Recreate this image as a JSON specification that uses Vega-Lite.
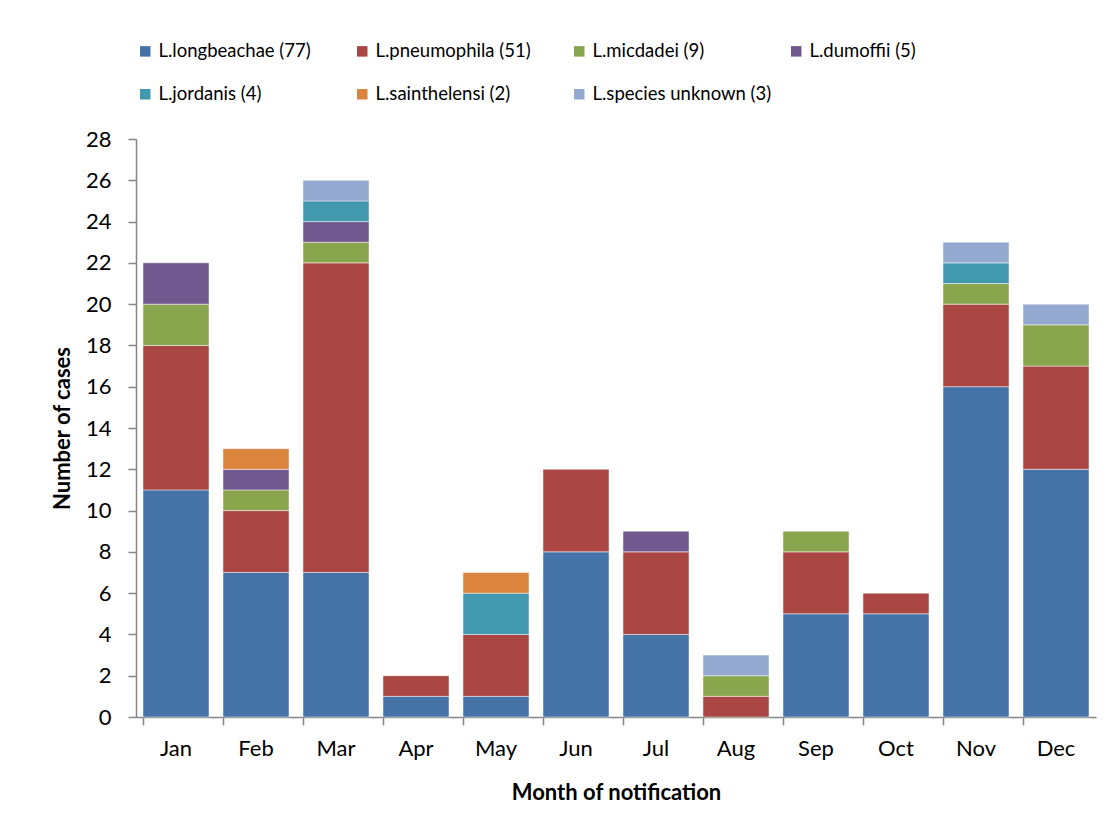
{
  "$schema": "https://vega.github.io/schema/vega-lite/v6.json",
  "autosize": {"type": "none"},
  "width": 960,
  "height": 578,
  "padding": {"left": 136, "top": 139, "right": 17, "bottom": 116},
  "background": "white",
  "config": {
    "font": "Lato",
    "view": {"stroke": null}
  },
  "data": {
    "values": [
      {"month": "Jan", "species": "L.longbeachae (77)", "cases": 11},
      {"month": "Jan", "species": "L.pneumophila (51)", "cases": 7},
      {"month": "Jan", "species": "L.micdadei (9)", "cases": 2},
      {"month": "Jan", "species": "L.dumoffii (5)", "cases": 2},
      {"month": "Feb", "species": "L.longbeachae (77)", "cases": 7},
      {"month": "Feb", "species": "L.pneumophila (51)", "cases": 3},
      {"month": "Feb", "species": "L.micdadei (9)", "cases": 1},
      {"month": "Feb", "species": "L.dumoffii (5)", "cases": 1},
      {"month": "Feb", "species": "L.sainthelensi (2)", "cases": 1},
      {"month": "Mar", "species": "L.longbeachae (77)", "cases": 7},
      {"month": "Mar", "species": "L.pneumophila (51)", "cases": 15},
      {"month": "Mar", "species": "L.micdadei (9)", "cases": 1},
      {"month": "Mar", "species": "L.dumoffii (5)", "cases": 1},
      {"month": "Mar", "species": "L.jordanis (4)", "cases": 1},
      {"month": "Mar", "species": "L.species unknown (3)", "cases": 1},
      {"month": "Apr", "species": "L.longbeachae (77)", "cases": 1},
      {"month": "Apr", "species": "L.pneumophila (51)", "cases": 1},
      {"month": "May", "species": "L.longbeachae (77)", "cases": 1},
      {"month": "May", "species": "L.pneumophila (51)", "cases": 3},
      {"month": "May", "species": "L.jordanis (4)", "cases": 2},
      {"month": "May", "species": "L.sainthelensi (2)", "cases": 1},
      {"month": "Jun", "species": "L.longbeachae (77)", "cases": 8},
      {"month": "Jun", "species": "L.pneumophila (51)", "cases": 4},
      {"month": "Jul", "species": "L.longbeachae (77)", "cases": 4},
      {"month": "Jul", "species": "L.pneumophila (51)", "cases": 4},
      {"month": "Jul", "species": "L.dumoffii (5)", "cases": 1},
      {"month": "Aug", "species": "L.pneumophila (51)", "cases": 1},
      {"month": "Aug", "species": "L.micdadei (9)", "cases": 1},
      {"month": "Aug", "species": "L.species unknown (3)", "cases": 1},
      {"month": "Sep", "species": "L.longbeachae (77)", "cases": 5},
      {"month": "Sep", "species": "L.pneumophila (51)", "cases": 3},
      {"month": "Sep", "species": "L.micdadei (9)", "cases": 1},
      {"month": "Oct", "species": "L.longbeachae (77)", "cases": 5},
      {"month": "Oct", "species": "L.pneumophila (51)", "cases": 1},
      {"month": "Nov", "species": "L.longbeachae (77)", "cases": 16},
      {"month": "Nov", "species": "L.pneumophila (51)", "cases": 4},
      {"month": "Nov", "species": "L.micdadei (9)", "cases": 1},
      {"month": "Nov", "species": "L.jordanis (4)", "cases": 1},
      {"month": "Nov", "species": "L.species unknown (3)", "cases": 1},
      {"month": "Dec", "species": "L.longbeachae (77)", "cases": 12},
      {"month": "Dec", "species": "L.pneumophila (51)", "cases": 5},
      {"month": "Dec", "species": "L.micdadei (9)", "cases": 2},
      {"month": "Dec", "species": "L.species unknown (3)", "cases": 1}
    ]
  },
  "transform": [
    {"calculate": "indexof(['L.longbeachae (77)', 'L.pneumophila (51)', 'L.micdadei (9)', 'L.dumoffii (5)', 'L.jordanis (4)', 'L.sainthelensi (2)', 'L.species unknown (3)'], datum.species)", "as": "stackOrder"}
  ],
  "mark": {"type": "bar", "stroke": "#ffffff", "strokeWidth": 0.8, "strokeOpacity": 0.6},
  "encoding": {
    "x": {
      "field": "month",
      "type": "nominal",
      "sort": ["Jan", "Feb", "Mar", "Apr", "May", "Jun", "Jul", "Aug", "Sep", "Oct", "Nov", "Dec"],
      "scale": {"paddingInner": 0.175, "paddingOuter": 0.0875},
      "axis": {
        "title": "Month of notification",
        "titleFont": "Lato",
        "titleFontSize": 22,
        "titleFontWeight": "bold",
        "titleColor": "#000000",
        "titlePadding": 23,
        "labelAngle": 0,
        "labelFontSize": 22,
        "labelColor": "#000000",
        "labelPadding": 13,
        "bandPosition": 0,
        "domainColor": "#868686",
        "domainWidth": 1.5,
        "tickColor": "#868686",
        "tickWidth": 1.5,
        "tickSize": 8
      }
    },
    "y": {
      "field": "cases",
      "type": "quantitative",
      "aggregate": "sum",
      "stack": "zero",
      "scale": {"domain": [0, 28], "nice": false},
      "axis": {
        "title": "Number of cases",
        "titleFontSize": 22,
        "titleFontWeight": "bold",
        "titleColor": "#000000",
        "titlePadding": 11,
        "values": [0, 2, 4, 6, 8, 10, 12, 14, 16, 18, 20, 22, 24, 26, 28],
        "labelFontSize": 22,
        "labelColor": "#000000",
        "labelPadding": 17,
        "grid": false,
        "domainColor": "#868686",
        "domainWidth": 1.5,
        "tickColor": "#868686",
        "tickWidth": 1.5,
        "tickSize": 8
      }
    },
    "color": {
      "field": "species",
      "type": "nominal",
      "sort": ["L.longbeachae (77)", "L.pneumophila (51)", "L.micdadei (9)", "L.dumoffii (5)", "L.jordanis (4)", "L.sainthelensi (2)", "L.species unknown (3)"],
      "scale": {
        "domain": ["L.longbeachae (77)", "L.pneumophila (51)", "L.micdadei (9)", "L.dumoffii (5)", "L.jordanis (4)", "L.sainthelensi (2)", "L.species unknown (3)"],
        "range": ["#4572A7", "#AA4643", "#89A54E", "#71588F", "#4198AF", "#DB843D", "#93A9CF"]
      },
      "legend": {
        "title": null,
        "orient": "top",
        "direction": "horizontal",
        "columns": 4,
        "gridAlign": "all",
        "symbolType": "square",
        "symbolSize": 110,
        "symbolStrokeWidth": 0,
        "labelFontSize": 18.5,
        "labelLimit": 300,
        "labelColor": "#000000",
        "labelOffset": 4,
        "columnPadding": 15,
        "rowPadding": 24,
        "offset": 35
      }
    },
    "order": {"field": "stackOrder", "type": "quantitative", "sort": "ascending"}
  }
}
